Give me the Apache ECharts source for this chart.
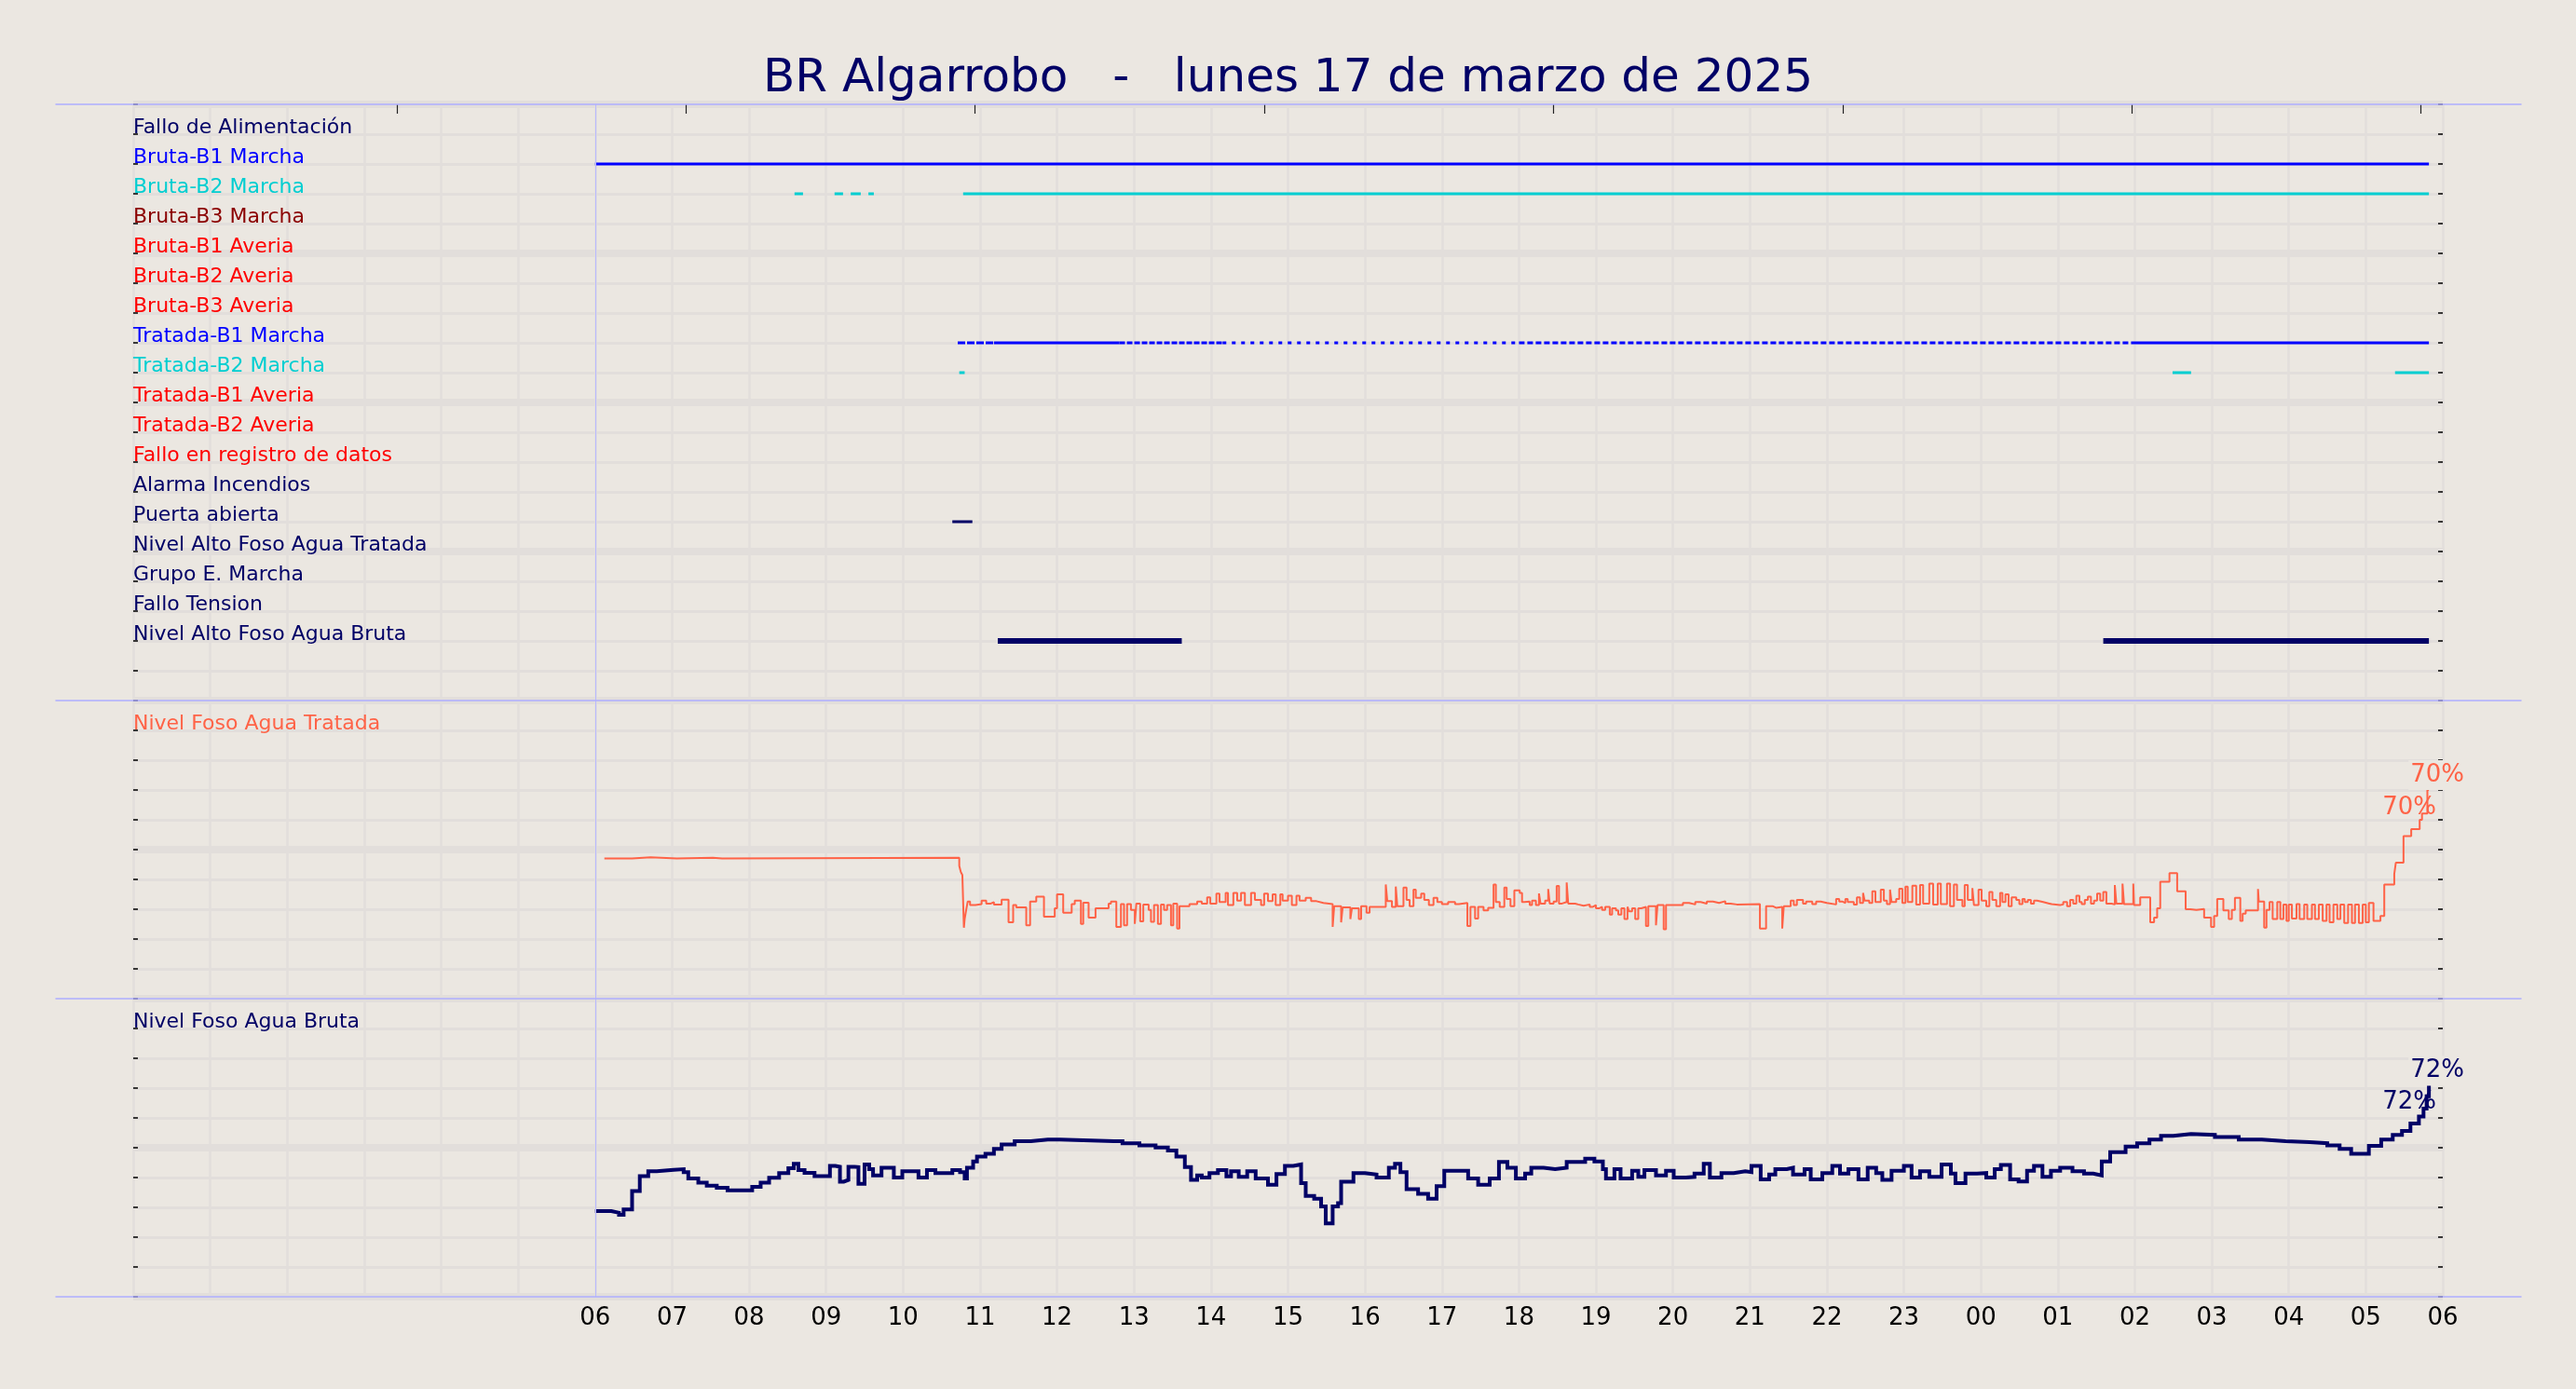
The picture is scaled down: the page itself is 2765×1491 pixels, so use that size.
<!DOCTYPE html>
<html><head><meta charset="utf-8">
<script src="https://cdn.jsdelivr.net/npm/echarts@6.0.0/dist/echarts.min.js"></script>
<style>html,body{margin:0;padding:0;background:#ebe7e1;}#c{width:2765px;height:1491px;}</style>
</head><body><div id="c"></div>
<script>
// ---------- DATA (hours counted from 00:00 of 17 March 2025) ----------
const titleText = 'BR Algarrobo   -   lunes 17 de marzo de 2025';
const startHour = 6;
const hourLabels = ['06','07','08','09','10','11','12','13','14','15','16','17','18','19','20','21','22','23','00','01','02','03','04','05','06'];
const topTicks = [3.43, 7.18, 10.93, 14.69, 18.45, 22.21, 25.96, 29.71];

const rowNames = ['Fallo de Alimentación','Bruta-B1 Marcha','Bruta-B2 Marcha','Bruta-B3 Marcha','Bruta-B1 Averia','Bruta-B2 Averia','Bruta-B3 Averia','Tratada-B1 Marcha','Tratada-B2 Marcha','Tratada-B1 Averia','Tratada-B2 Averia','Fallo en registro de datos','Alarma Incendios','Puerta abierta','Nivel Alto Foso Agua Tratada','Grupo E. Marcha','Fallo Tension','Nivel Alto Foso Agua Bruta'];

const bB1Marcha = [[6.0, 29.82]];
const bB2Marcha = [[8.59, 8.70], [9.11, 9.22], [9.32, 9.45], [9.55, 9.62], [10.78, 29.82]];
const tB1Marcha = [[10.71, 11.18], [11.18, 12.81], [12.81, 14.15], [14.15, 18.0], [18.0, 25.97], [25.97, 29.82]];
const tB2Marcha = [[10.73, 10.80], [26.49, 26.73], [29.38, 29.82]];
const puertaAbierta = [[10.64, 10.90]];
const nivelAltoBruta = [[11.23, 13.62], [25.59, 29.82]];

const tratadaLabel = 'Nivel Foso Agua Tratada';
const brutaLabel = 'Nivel Foso Agua Bruta';
const panelLabelValue = 90;

const tratada = [[6.12,47.0],[6.48,47.4],[6.72,47.0],[7.06,47.3],[7.53,47.0],[7.65,47.3],
[10.73,44.5],[10.75,42.5],[10.77,41.5],[10.79,23.8],[10.80,26.7],[10.82,29.8],[10.84,32.6],[10.87,31.4],[10.94,31.7],[11.02,32.9],[11.08,31.9],[11.14,32.4],[11.18,31.6],[11.28,33.2],[11.37,25.6],[11.43,31.4],[11.47,30.6],[11.60,24.6],[11.65,32.6],[11.73,34.2],[11.83,27.5],[11.97,30.3],[12.00,35.0],[12.08,28.8],[12.19,31.7],[12.23,32.9],[12.31,25.1],[12.34,32.2],[12.41,27.2],[12.50,30.3],[12.67,31.9],[12.70,32.6],[12.77,24.1],[12.83,31.7],[12.87,24.6],[12.91,31.7],[12.96,29.8],[13.01,25.1],[13.03,31.9],[13.08,25.9],[13.12,31.6],[13.19,29.8],[13.22,25.8],[13.26,31.4],[13.31,25.1],[13.35,31.6],[13.39,29.8],[13.43,31.4],[13.48,24.6],[13.51,31.9],[13.56,23.5],[13.59,31.0],[13.72,31.7],[13.82,32.6],[13.88,31.9],[13.95,34.0],[13.99,31.9],[14.07,35.2],[14.11,32.4],[14.19,35.5],[14.22,31.4],[14.29,35.5],[14.34,32.9],[14.39,35.5],[14.44,31.4],[14.52,35.5],[14.57,33.1],[14.65,31.4],[14.69,35.2],[14.74,32.7],[14.80,35.0],[14.84,31.4],[14.90,35.0],[14.93,32.9],[15.00,34.5],[15.05,31.4],[15.11,34.5],[15.15,32.9],[15.23,33.8],[15.30,32.7],[15.37,32.1],[15.46,31.7],[15.58,24.1],[15.60,31.0],[15.69,25.6],[15.71,30.6],[15.81,26.7],[15.83,30.3],[15.92,26.7],[15.95,31.0],[16.02,28.8],[16.06,30.8],[16.27,38.3],[16.29,32.7],[16.35,30.8],[16.40,37.6],[16.42,31.0],[16.50,37.3],[16.54,33.1],[16.58,31.0],[16.63,36.6],[16.66,33.8],[16.73,35.2],[16.77,33.1],[16.83,31.4],[16.89,33.8],[16.94,32.4],[17.00,31.7],[17.08,32.4],[17.17,31.7],[17.22,32.1],[17.33,24.4],[17.37,30.8],[17.43,26.9],[17.47,30.8],[17.54,29.6],[17.60,30.5],[17.67,38.3],[17.70,32.4],[17.75,30.8],[17.81,37.3],[17.84,33.4],[17.89,31.0],[17.94,36.3],
[18.01,35.5],[18.04,32.4],[18.07,32.6],[18.14,31.4],[18.17,32.9],[18.22,31.4],[18.26,35.3],[18.28,31.9],[18.34,32.9],[18.38,36.8],[18.40,31.9],[18.45,32.6],[18.49,37.8],[18.52,31.9],[18.56,32.4],[18.62,39.0],[18.64,31.9],[18.73,31.6],[18.77,31.2],[18.84,31.6],[18.92,30.8],[18.96,31.4],[19.00,30.3],[19.04,30.8],[19.08,29.8],[19.12,30.8],[19.18,28.2],[19.21,30.3],[19.26,29.6],[19.29,28.2],[19.33,30.3],[19.37,26.7],[19.41,30.8],[19.43,29.3],[19.47,30.3],[19.51,26.7],[19.55,30.3],[19.59,30.8],[19.65,24.4],[19.68,31.0],[19.78,24.6],[19.80,31.4],[19.88,23.3],[19.91,31.4],[20.13,32.1],[20.21,31.6],[20.29,32.4],[20.36,31.9],[20.44,32.6],[20.52,32.1],[20.60,32.7],[20.68,31.9],[20.75,31.6],[20.83,31.7],[21.13,23.5],[21.21,31.0],[21.30,30.5],[21.34,30.8],[21.42,23.5],[21.44,31.0],[21.53,32.9],[21.57,31.4],[21.61,33.1],[21.69,31.9],[21.73,32.6],[21.81,31.7],[21.86,32.6],[21.92,32.1],[22.00,31.6],[22.12,33.4],[22.16,32.6],[22.20,32.1],[22.24,33.4],[22.27,32.4],[22.35,31.6],[22.39,34.0],[22.43,32.1],[22.47,35.5],[22.49,32.9],[22.55,32.1],[22.59,36.0],[22.63,32.4],[22.70,36.6],[22.74,32.9],[22.78,31.7],[22.82,36.6],[22.84,32.4],[22.90,33.4],[22.94,36.9],[22.98,32.1],[23.02,37.6],[23.05,32.4],[23.11,37.9],[23.16,31.6],[23.21,38.1],[23.25,31.9],[23.33,38.6],[23.38,31.6],[23.44,38.6],[23.48,31.7],[23.56,38.6],[23.60,31.0],[23.65,38.3],[23.69,33.1],[23.76,31.0],[23.79,38.1],[23.83,33.1],[23.89,37.1],[23.91,31.4],[23.97,36.6],[24.01,32.9],[24.07,31.0],[24.11,35.8],[24.15,33.1],[24.20,31.0],[24.25,35.5],[24.28,32.4],[24.32,35.0],[24.36,31.0],[24.40,34.0],[24.46,33.1],[24.50,31.7],[24.54,33.4],[24.57,32.4],[24.61,33.1],[24.65,31.9],[24.69,32.9],[24.73,32.4],[24.81,31.9],[24.89,31.7],[24.92,31.4],[25.03,31.6],[25.07,32.4],[25.12,31.0],[25.16,33.1],[25.20,31.9],[25.24,34.5],[25.28,32.4],[25.31,31.7],[25.35,33.1],[25.39,34.2],[25.43,31.9],[25.47,32.9],[25.51,35.2],[25.55,32.9],[25.59,35.8],[25.63,31.9],[25.70,31.6],[25.74,38.1],[25.76,31.9],[25.84,38.6],[25.86,31.7],[25.98,38.6],[25.99,31.4],[26.07,34.0],[26.20,25.6],[26.25,27.2],[26.29,30.3],[26.33,39.2],[26.45,42.1],[26.55,36.0],[26.66,30.0],[26.72,29.8],[26.80,30.1],[26.90,27.2],[26.99,24.1],[27.03,27.7],[27.07,33.4],[27.15,29.6],[27.22,26.7],[27.26,29.8],[27.30,33.8],[27.37,26.1],[27.40,28.5],[27.44,29.6],[27.60,36.8],[27.61,32.6],[27.68,23.8],[27.71,29.8],[27.75,32.4],[27.79,26.7],[27.85,32.4],[27.89,26.7],[27.93,31.6],[27.97,26.1],[28.00,31.6],[28.04,26.9],[28.10,31.7],[28.14,26.7],[28.20,31.6],[28.24,26.7],[28.30,31.6],[28.34,26.7],[28.39,31.6],[28.44,26.1],[28.49,31.6],[28.53,25.6],[28.58,31.6],[28.63,26.7],[28.67,31.6],[28.72,25.4],[28.77,31.6],[28.82,25.4],[28.86,31.6],[28.91,25.4],[28.96,31.6],[29.00,25.6],[29.04,32.1],[29.10,26.1],[29.19,27.7],[29.24,38.3],[29.37,41.8],[29.39,45.6],[29.49,54.5],[29.59,56.9],[29.70,60.0],[29.73,62.1],[29.80,70.0],[29.82,70.0]];

const bruta = [[6.0,28.75],[6.21,28.2],[6.31,27.5],[6.37,29.3],[6.48,35.5],[6.58,40.5],[6.69,42.1],[6.80,42.6],[7.02,42.8],[7.15,41.8],[7.21,39.7],[7.34,38.3],[7.45,37.3],[7.58,36.6],[7.72,35.7],[7.99,35.7],[8.04,36.9],[8.15,38.3],[8.26,39.9],[8.39,41.5],[8.51,43.1],[8.58,44.6],[8.64,42.5],[8.72,41.6],[8.85,40.5],[9.02,40.5],[9.05,43.9],[9.12,43.6],[9.18,38.6],[9.23,39.2],[9.29,43.6],[9.37,43.5],[9.42,37.9],[9.50,44.4],[9.56,42.8],[9.61,40.7],[9.72,43.3],[9.85,43.3],[9.88,40.0],[9.99,42.1],[10.15,42.1],[10.20,40.0],[10.31,42.5],[10.42,41.5],[10.58,41.5],[10.64,42.5],[10.74,41.8],[10.80,39.7],[10.83,43.3],[10.91,45.4],[10.96,47.0],[11.07,48.0],[11.18,49.6],[11.28,51.1],[11.45,52.2],[11.66,52.7],[11.88,52.7],[12.04,52.2],[12.74,52.2],[12.85,51.5],[13.07,50.8],[13.28,50.1],[13.44,49.1],[13.55,47.0],[13.66,43.5],[13.74,39.2],[13.82,40.7],[13.88,40.0],[13.98,41.5],[14.09,42.5],[14.20,40.4],[14.26,42.1],[14.36,40.2],[14.47,42.1],[14.58,39.7],[14.74,37.6],[14.85,41.2],[14.96,43.9],[15.07,44.4],[15.17,38.1],[15.23,33.8],[15.34,32.9],[15.43,30.3],[15.49,24.6],[15.58,30.3],[15.65,31.4],[15.69,38.6],[15.85,41.5],[16.00,41.0],[16.15,40.0],[16.31,43.3],[16.39,44.6],[16.46,41.8],[16.54,36.1],[16.69,34.5],[16.82,32.9],[16.93,37.1],[17.03,42.3],[17.23,42.3],[17.34,39.7],[17.47,37.6],[17.62,39.7],[17.74,45.2],[17.85,43.3],[17.96,39.7],[18.08,41.3],[18.16,43.3],[18.32,42.8],[18.47,43.3],[18.62,45.2],[18.86,46.3],[18.98,45.4],[19.09,42.8],[19.13,39.7],[19.24,42.8],[19.32,39.7],[19.47,42.3],[19.55,40.2],[19.63,42.5],[19.78,40.7],[19.91,42.3],[20.01,40.0],[20.17,40.2],[20.28,41.3],[20.40,44.6],[20.48,40.0],[20.63,41.5],[20.79,42.1],[20.94,41.8],[21.02,43.9],[21.14,39.4],[21.25,41.0],[21.33,42.8],[21.48,43.3],[21.56,41.0],[21.71,42.8],[21.79,39.4],[21.94,41.5],[22.07,43.9],[22.17,41.3],[22.28,42.8],[22.41,39.4],[22.53,43.3],[22.64,41.5],[22.72,39.2],[22.84,42.3],[23.00,43.9],[23.10,40.0],[23.21,42.1],[23.33,40.2],[23.49,44.4],[23.61,41.3],[23.67,38.1],[23.80,41.3],[23.95,41.5],[24.07,40.0],[24.18,42.8],[24.26,44.2],[24.38,39.4],[24.49,38.7],[24.60,42.3],[24.69,43.9],[24.80,40.2],[24.91,42.3],[25.03,43.3],[25.19,42.1],[25.34,41.3],[25.46,40.7],[25.57,45.4],[25.68,48.5],[25.88,50.4],[26.03,51.5],[26.19,52.7],[26.34,54.0],[26.50,54.6],[26.73,54.3],[27.04,53.6],[27.35,52.7],[27.65,52.2],[27.96,51.9],[28.27,51.5],[28.50,50.8],[28.66,49.6],[28.81,48.0],[28.92,48.0],[29.04,50.6],[29.20,52.7],[29.35,54.3],[29.47,55.6],[29.58,58.1],[29.69,60.5],[29.75,63.1],[29.79,67.3],[29.82,72.0]];

// ---------- STYLE ----------
const FONT = 'DejaVu Sans';
const BG = '#ebe7e1';
const GRIDC = '#e2dedb';
const SEP = '#aeaeff';
const NAVY = '#000066';
const TOMATO = '#ff6347';
const rowColors = [NAVY,'#0000ff','#00ced1','#8b0000','#ff0000','#ff0000','#ff0000','#0000ff','#00ced1','#ff0000','#ff0000','#ff0000',NAVY,NAVY,NAVY,NAVY,NAVY,NAVY];
const tB1Dash = [[8,2], null, [6,2], [4,6], [6,3], null];

const L = 143, R = 143;
const grids = [
  {left:L, right:R, top:112, height:640},
  {left:L, right:R, top:752, height:320},
  {left:L, right:R, top:1072, height:320},
  {left:60, right:59, top:112, height:640},
  {left:60, right:59, top:1072, height:320}
];

function xBase(gi, extra) {
  return Object.assign({gridIndex:gi, type:'value', min:0, max:30, interval:1,
    axisLine:{show:false}, axisTick:{show:false}, axisLabel:{show:false},
    splitLine:{show:true, lineStyle:{color:GRIDC, width:2.5}}}, extra||{});
}
function sepAxis(gi, pos) {
  return {gridIndex:gi, type:'value', min:0, max:1, position:pos, z:5,
    axisLine:{show:true, onZero:false, lineStyle:{color:SEP, width:1.5}}, axisTick:{show:false}, axisLabel:{show:false}, splitLine:{show:false}};
}
const xAxes = [
  xBase(0), xBase(1),
  xBase(2, {axisLabel:{show:true, fontFamily:FONT, fontSize:26, color:'#000', margin:10,
     formatter: v => (v >= startHour ? (hourLabels[v - startHour] || '') : '')}}),
  {gridIndex:0, type:'value', min:0, max:30, position:'top', axisLine:{show:false, onZero:false}, axisLabel:{show:false}, splitLine:{show:false},
   axisTick:{show:true, inside:true, length:10, customValues:topTicks, lineStyle:{color:'#222', width:1.2}}},
  sepAxis(3, 'top'), sepAxis(3, 'bottom'), sepAxis(4, 'top'), sepAxis(4, 'bottom')
];

function yMain(gi, min, max, interval, inverse, fmt, col) {
  return {gridIndex:gi, type:'value', min, max, interval, inverse, position:'left',
    axisLine:{show:false, onZero:false},
    axisTick:{show:true, inside:true, length:5, lineStyle:{color:'#000', width:1.5}},
    splitLine:{show:true, lineStyle:{color:GRIDC, width:3}},
    axisLabel:{show:true, inside:true, margin:0, fontFamily:FONT, fontSize:22, verticalAlign:'bottom', lineHeight:14,
      formatter: fmt, color: col}};
}
function yRight(gi, min, max, interval, inverse) {
  return {gridIndex:gi, type:'value', min, max, interval, inverse, position:'right',
    axisLine:{show:false, onZero:false}, axisLabel:{show:false}, splitLine:{show:false},
    axisTick:{show:true, inside:true, length:5, lineStyle:{color:'#000', width:1.5}}};
}
function yThick(gi, min, max, interval, inverse) {
  return {gridIndex:gi, type:'value', min, max, interval, inverse, position:'left',
    axisLine:{show:false, onZero:false}, axisLabel:{show:false}, axisTick:{show:false},
    splitLine:{show:true, lineStyle:{color:GRIDC, width:8}}};
}
const yAxes = [
  yMain(0, 0, 20, 1, true, v => rowNames[v-1] || '', v => rowColors[Number(v)-1] || NAVY),
  yRight(0, 0, 20, 1, true),
  yThick(0, 0, 20, 5, true),
  yMain(1, 0, 100, 10, false, v => (v === panelLabelValue ? tratadaLabel : ''), () => TOMATO),
  yRight(1, 0, 100, 10, false),
  yThick(1, 0, 100, 50, false),
  yMain(2, 0, 100, 10, false, v => (v === panelLabelValue ? brutaLabel : ''), () => NAVY),
  yRight(2, 0, 100, 10, false),
  yThick(2, 0, 100, 50, false),
  {gridIndex:3, type:'value', min:0, max:1, show:false, splitLine:{show:false}},
  {gridIndex:4, type:'value', min:0, max:1, show:false, splitLine:{show:false}}
];

const vline = {silent:true, symbol:'none', label:{show:false}, lineStyle:{color:'#b8b8ff', width:1, type:'solid'}, data:[{xAxis:startHour}]};

const series = [];
function addRuns(runs, name, width, dashes, withLine) {
  const row = rowNames.indexOf(name) + 1;
  const color = rowColors[row-1];
  runs.forEach((r, i) => {
    const s = {type:'line', xAxisIndex:0, yAxisIndex:0, data:[[r[0],row],[r[1],row]], symbol:'none', silent:true,
      lineStyle:{color, width, cap:'butt', type:(dashes && dashes[i]) ? dashes[i] : 'solid'}};
    if (withLine && i === 0) s.markLine = vline;
    series.push(s);
  });
}
addRuns(bB1Marcha, 'Bruta-B1 Marcha', 3, null, true);
addRuns(bB2Marcha, 'Bruta-B2 Marcha', 3);
addRuns(tB1Marcha, 'Tratada-B1 Marcha', 3, tB1Dash);
addRuns(tB2Marcha, 'Tratada-B2 Marcha', 3);
addRuns(puertaAbierta, 'Puerta abierta', 3);
addRuns(nivelAltoBruta, 'Nivel Alto Foso Agua Bruta', 6);

function endLabels(arr, color, offA, offB) {
  const last = arr[arr.length-1];
  const txt = Math.round(last[1]) + '%';
  return {silent:true, symbolSize:0, data:[
    {coord:last, label:{show:true, formatter:txt, color, fontFamily:FONT, fontSize:26, offset:offA, backgroundColor:BG, padding:[3,2]}},
    {coord:last, label:{show:true, formatter:txt, color, fontFamily:FONT, fontSize:26, offset:offB}}
  ]};
}
series.push({type:'line', xAxisIndex:1, yAxisIndex:3, data:tratada, step:'end', symbol:'none', silent:true,
  lineStyle:{color:TOMATO, width:2}, markLine:vline, markPoint:endLabels(tratada, TOMATO, [9,-16], [-21,19])});
series.push({type:'line', xAxisIndex:2, yAxisIndex:6, data:bruta, step:'end', symbol:'none', silent:true,
  lineStyle:{color:NAVY, width:4, join:'miter'}, markLine:vline, markPoint:endLabels(bruta, NAVY, [9,-12], [-21,22])});

const chart = echarts.init(document.getElementById('c'), null, {renderer:'canvas'});
chart.setOption({
  backgroundColor: BG,
  animation:false,
  title:{text:titleText, left:'center', top:55, textStyle:{fontFamily:FONT, fontSize:50, fontWeight:'normal', color:NAVY}},
  grid: grids, xAxis: xAxes, yAxis: yAxes, series
});
</script></body></html>
